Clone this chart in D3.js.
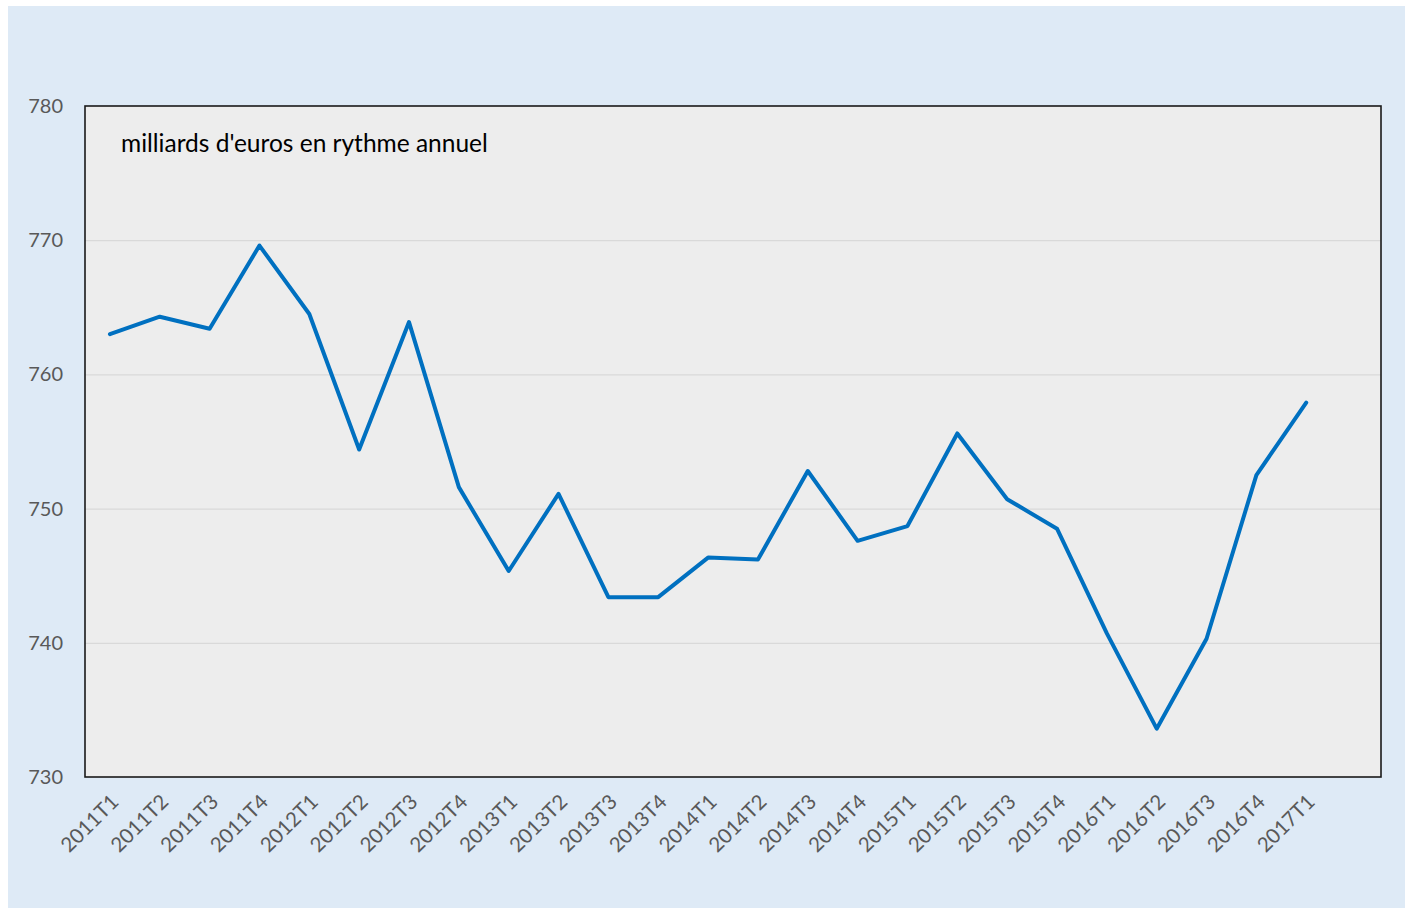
<!DOCTYPE html>
<html>
<head>
<meta charset="utf-8">
<script src="https://cdn.jsdelivr.net/npm/d3@7"></script>
<style>
  html, body { margin: 0; padding: 0; background: #ffffff; }
  svg { display: block; }
  text { font-family: Lato, "Open Sans", sans-serif; }
</style>
</head>
<body>
<svg id="chart" width="1405" height="908"></svg>
<script>
const categories = ["2011T1","2011T2","2011T3","2011T4","2012T1","2012T2","2012T3","2012T4",
  "2013T1","2013T2","2013T3","2013T4","2014T1","2014T2","2014T3","2014T4",
  "2015T1","2015T2","2015T3","2015T4","2016T1","2016T2","2016T3","2016T4","2017T1"];
const values = [763.0, 764.3, 763.4, 769.6, 764.5, 754.4, 763.9, 751.6,
  745.35, 751.1, 743.4, 743.4, 746.35, 746.2, 752.8, 747.6,
  748.7, 755.6, 750.7, 748.5, 740.7, 733.6, 740.3, 752.5, 757.9];
const yTicks = [730, 740, 750, 760, 770, 780];
const unitLabel = "milliards d'euros en rythme annuel";

const svg = d3.select("#chart");
const W = 1405, H = 908;
const plot = { left: 85, top: 106, right: 1381, bottom: 777 };

svg.append("rect").attr("x", 8).attr("y", 6).attr("width", W - 8).attr("height", H - 6)
  .attr("fill", "#deeaf6");

svg.append("rect").attr("x", plot.left).attr("y", plot.top)
  .attr("width", plot.right - plot.left).attr("height", plot.bottom - plot.top)
  .attr("fill", "#ededed");

const y = d3.scaleLinear().domain([730, 780]).range([plot.bottom, plot.top]);
const slotCount = categories.length + 1;
const step = (plot.right - plot.left) / slotCount;
const x = d3.scaleBand().domain(categories)
  .range([plot.left, plot.left + step * categories.length]).padding(0);
const xc = d => x(d) + x.bandwidth() / 2;

// gridlines
svg.append("g")
  .attr("transform", `translate(${plot.left},0)`)
  .call(d3.axisLeft(y).tickValues(yTicks.filter(t => t > 730 && t < 780))
    .tickSize(-(plot.right - plot.left)).tickFormat(""))
  .call(g => g.select(".domain").remove())
  .call(g => g.selectAll("line").attr("stroke", "#d9d9d9").attr("stroke-width", 1.3));

// y axis labels
svg.append("g")
  .attr("transform", `translate(${plot.left},0)`)
  .call(d3.axisLeft(y).tickValues(yTicks).tickSize(0).tickPadding(22).tickFormat(d3.format("d")))
  .call(g => g.select(".domain").remove())
  .call(g => g.selectAll("text").attr("fill", "#595959").style("font-size", "20px")
    .style("font-family", "Lato, 'Open Sans', sans-serif"));

// x axis labels
svg.append("g")
  .attr("transform", `translate(0,${plot.bottom})`)
  .call(d3.axisBottom(x).tickSize(0).tickPadding(0))
  .call(g => g.select(".domain").remove())
  .call(g => g.selectAll("text")
    .attr("fill", "#595959").style("font-size", "20.5px")
    .style("font-family", "Lato, 'Open Sans', sans-serif")
    .attr("text-anchor", "end")
    .attr("dy", 0)
    .attr("transform", "translate(10,26) rotate(-45)"));

// line
const line = d3.line().x((d, i) => xc(categories[i])).y(d => y(d));
svg.append("path").datum(values)
  .attr("d", line)
  .attr("fill", "none")
  .attr("stroke", "#0070c0")
  .attr("stroke-width", 4)
  .attr("stroke-linejoin", "round")
  .attr("stroke-linecap", "round");

// border
svg.append("rect").attr("x", plot.left).attr("y", plot.top)
  .attr("width", plot.right - plot.left).attr("height", plot.bottom - plot.top)
  .attr("fill", "none").attr("stroke", "#1a1a1a").attr("stroke-width", 1.6);

// unit label
svg.append("text").attr("x", 121).attr("y", 152)
  .attr("fill", "#000").style("font-size", "24.5px").text(unitLabel);
</script>
</body>
</html>
